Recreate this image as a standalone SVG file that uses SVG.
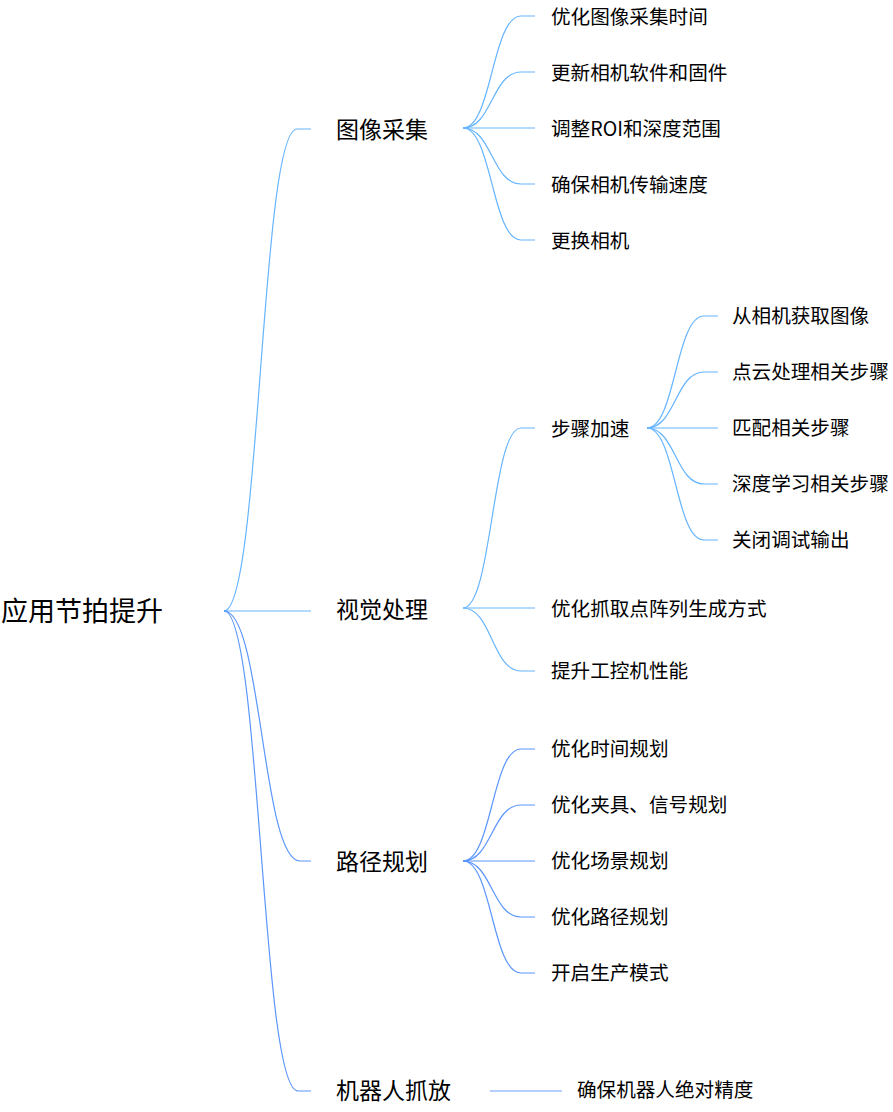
<svg xmlns="http://www.w3.org/2000/svg" width="893" height="1112" viewBox="0 0 893 1112">
<style>
  .t { font-family: "Noto Sans CJK SC", "Noto Sans", sans-serif; fill: #000; dominant-baseline: central; }
  .t0 { font-size: 27px; }
  .t1 { font-size: 23px; }
  .t2 { font-size: 19.6px; }
  .c { fill: none; stroke-width: 1.2; }
  .la { stroke: #66b5ff; }
  .lb { stroke: #5b96fb; }
  .lc { stroke: #9fbfff; stroke-width: 1.6; }
</style>
<rect width="893" height="1112" fill="#ffffff"/>
<g id="connectors">
  <path class="c la" d="M224,611 C260.5,611 260.5,129 297,129 L311,129"/>
  <path class="c la" d="M224,611 L311,611"/>
  <path class="c lb" d="M224,611 C262,611 262,861 300,861 L311,861"/>
  <path class="c lb" d="M224,611 C261,611 261,1091 298,1091 L311,1091"/>
  <path class="c la" d="M463,128 C492,128 492,16 521,16 L535,16"/>
  <path class="c la" d="M463,128 C492,128 492,72 521,72 L535,72"/>
  <path class="c la" d="M463,128 L535,128"/>
  <path class="c la" d="M463,128 C492,128 492,184 521,184 L535,184"/>
  <path class="c la" d="M463,128 C492,128 492,240 521,240 L535,240"/>
  <path class="c la" d="M463,608 C492,608 492,428 521,428 L535,428"/>
  <path class="c la" d="M463,608 L535,608"/>
  <path class="c la" d="M463,608 C492,608 492,671 521,671 L535,671"/>
  <path class="c la" d="M647,428 C675.5,428 675.5,316 704,316 L718,316"/>
  <path class="c la" d="M647,428 C675.5,428 675.5,372 704,372 L718,372"/>
  <path class="c la" d="M647,428 L718,428"/>
  <path class="c la" d="M647,428 C675.5,428 675.5,484 704,484 L718,484"/>
  <path class="c la" d="M647,428 C675.5,428 675.5,540 704,540 L718,540"/>
  <path class="c lb" d="M463,861 C492,861 492,749 521,749 L535,749"/>
  <path class="c lb" d="M463,861 C492,861 492,805 521,805 L535,805"/>
  <path class="c lb" d="M463,861 L535,861"/>
  <path class="c lb" d="M463,861 C492,861 492,917 521,917 L535,917"/>
  <path class="c lb" d="M463,861 C492,861 492,973 521,973 L535,973"/>
  <path class="c lc" d="M490,1091 L562,1091"/>
</g>
<g id="root"><text class="t t0" x="1" y="609.5">应用节拍提升</text></g>
<g id="n-img"><text class="t t1" x="336" y="127.5">图像采集</text></g>
<g id="n-vis"><text class="t t1" x="336" y="607.5">视觉处理</text></g>
<g id="n-path"><text class="t t1" x="336" y="859.5">路径规划</text></g>
<g id="n-robot"><text class="t t1" x="336" y="1088.5">机器人抓放</text></g>
<g id="n-img-1"><text class="t t2" x="551" y="15.5">优化图像采集时间</text></g>
<g id="n-img-2"><text class="t t2" x="551" y="71.5">更新相机软件和固件</text></g>
<g id="n-img-3"><text class="t t2" x="551" y="127.5">调整ROI和深度范围</text></g>
<g id="n-img-4"><text class="t t2" x="551" y="183.5">确保相机传输速度</text></g>
<g id="n-img-5"><text class="t t2" x="551" y="239.5">更换相机</text></g>
<g id="n-vis-1"><text class="t t2" x="551" y="427">步骤加速</text></g>
<g id="n-vis-1-1"><text class="t t2" x="732" y="314.5">从相机获取图像</text></g>
<g id="n-vis-1-2"><text class="t t2" x="732" y="370.5">点云处理相关步骤</text></g>
<g id="n-vis-1-3"><text class="t t2" x="732" y="426.5">匹配相关步骤</text></g>
<g id="n-vis-1-4"><text class="t t2" x="732" y="482.5">深度学习相关步骤</text></g>
<g id="n-vis-1-5"><text class="t t2" x="732" y="538.5">关闭调试输出</text></g>
<g id="n-vis-2"><text class="t t2" x="551" y="607.5">优化抓取点阵列生成方式</text></g>
<g id="n-vis-3"><text class="t t2" x="551" y="669.5">提升工控机性能</text></g>
<g id="n-path-1"><text class="t t2" x="551" y="747.5">优化时间规划</text></g>
<g id="n-path-2"><text class="t t2" x="551" y="803.5">优化夹具、信号规划</text></g>
<g id="n-path-3"><text class="t t2" x="551" y="859.5">优化场景规划</text></g>
<g id="n-path-4"><text class="t t2" x="551" y="915.5">优化路径规划</text></g>
<g id="n-path-5"><text class="t t2" x="551" y="971.5">开启生产模式</text></g>
<g id="n-robot-1"><text class="t t2" x="577" y="1088.5">确保机器人绝对精度</text></g>
</svg>
